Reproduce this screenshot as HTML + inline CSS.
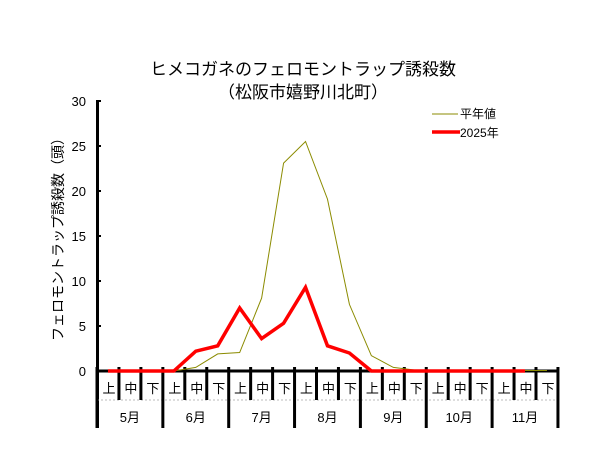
<!DOCTYPE html>
<html><head><meta charset="utf-8"><style>body{margin:0;background:#fff}svg{display:block}text{font-family:"Liberation Sans","Noto Sans CJK JP",sans-serif}</style></head>
<body>
<svg width="606" height="468" xmlns="http://www.w3.org/2000/svg">
<rect width="606" height="468" fill="#fff"/>
<text x="303" y="75" font-size="17" text-anchor="middle">ヒメコガネのフェロモントラップ誘殺数</text>
<text x="303" y="98" font-size="17" text-anchor="middle">（松阪市嬉野川北町）</text>
<g font-size="13" text-anchor="end">
<text x="86" y="106">30</text><text x="86" y="151">25</text><text x="86" y="196">20</text>
<text x="86" y="241">15</text><text x="86" y="286">10</text><text x="86" y="331">5</text><text x="86" y="376">0</text>
</g>
<text transform="translate(63,236) rotate(-90)" font-size="14" text-anchor="middle">フェロモントラップ誘殺数（頭）</text>
<line x1="97.5" y1="100" x2="97.5" y2="428" stroke="#000" stroke-width="3"/>
<g stroke="#000" stroke-width="2">
<line x1="97" y1="101" x2="101" y2="101"/><line x1="97" y1="146" x2="101" y2="146"/><line x1="97" y1="191" x2="101" y2="191"/>
<line x1="97" y1="236" x2="101" y2="236"/><line x1="97" y1="281" x2="101" y2="281"/><line x1="97" y1="326" x2="101" y2="326"/>
</g>
<line x1="97" y1="371" x2="559" y2="371" stroke="#000" stroke-width="3"/>
<line x1="97" y1="400" x2="559" y2="400" stroke="#bbb" stroke-width="1" stroke-dasharray="2,2"/>
<g stroke="#000" stroke-width="3" id="ticks"></g>
<g font-size="13" text-anchor="middle" id="labels"></g>
<polyline id="avg" fill="none" stroke="#8b8b00" stroke-width="1"/>
<polyline id="red" fill="none" stroke="#ff0000" stroke-width="3.5" stroke-linejoin="miter"/>
<line x1="432" y1="114" x2="458" y2="114" stroke="#8b8b00" stroke-width="1"/>
<text x="460" y="118" font-size="12">平年値</text>
<line x1="432" y1="132" x2="460" y2="132" stroke="#ff0000" stroke-width="3.5"/>
<text x="460" y="137" font-size="12">2025年</text>
<script>
var W=21.95,x0=97,ns="http://www.w3.org/2000/svg";
function X(i){return x0+W*(i+0.5)}function Y(v){return 371-9*v}
var avg=[0,0,0,0,0.4,1.9,2.05,8.1,23.1,25.5,19.1,7.4,1.7,0.4,0.1,0,0,0,0,0.05,0.05];
var red=[0,0,0,0,2.2,2.8,7,3.6,5.3,9.3,2.8,2,0,0,0,0,0,0,0,0];
document.getElementById('avg').setAttribute('points',avg.map((v,i)=>X(i)+','+Y(v)).join(' '));
document.getElementById('red').setAttribute('points',red.map((v,i)=>X(i)+','+Y(v)).join(' '));
var t=document.getElementById('ticks'),l=document.getElementById('labels');
var sub=['上','中','下'],mon=['5月','6月','7月','8月','9月','10月','11月'];
for(var i=0;i<=21;i++){var x=x0+W*i;var ln=document.createElementNS(ns,'line');
ln.setAttribute('x1',x);ln.setAttribute('x2',x);ln.setAttribute('y1',367);ln.setAttribute('y2',i%3==0?428:400);t.appendChild(ln);}
for(var i=0;i<21;i++){var tx=document.createElementNS(ns,'text');tx.setAttribute('x',X(i)+1);tx.setAttribute('y',393);tx.textContent=sub[i%3];l.appendChild(tx);}
for(var m=0;m<7;m++){var tx=document.createElementNS(ns,'text');tx.setAttribute('x',x0+W*(3*m+1.5));tx.setAttribute('y',422);tx.textContent=mon[m];l.appendChild(tx);}
</script>
</svg>
</body></html>
